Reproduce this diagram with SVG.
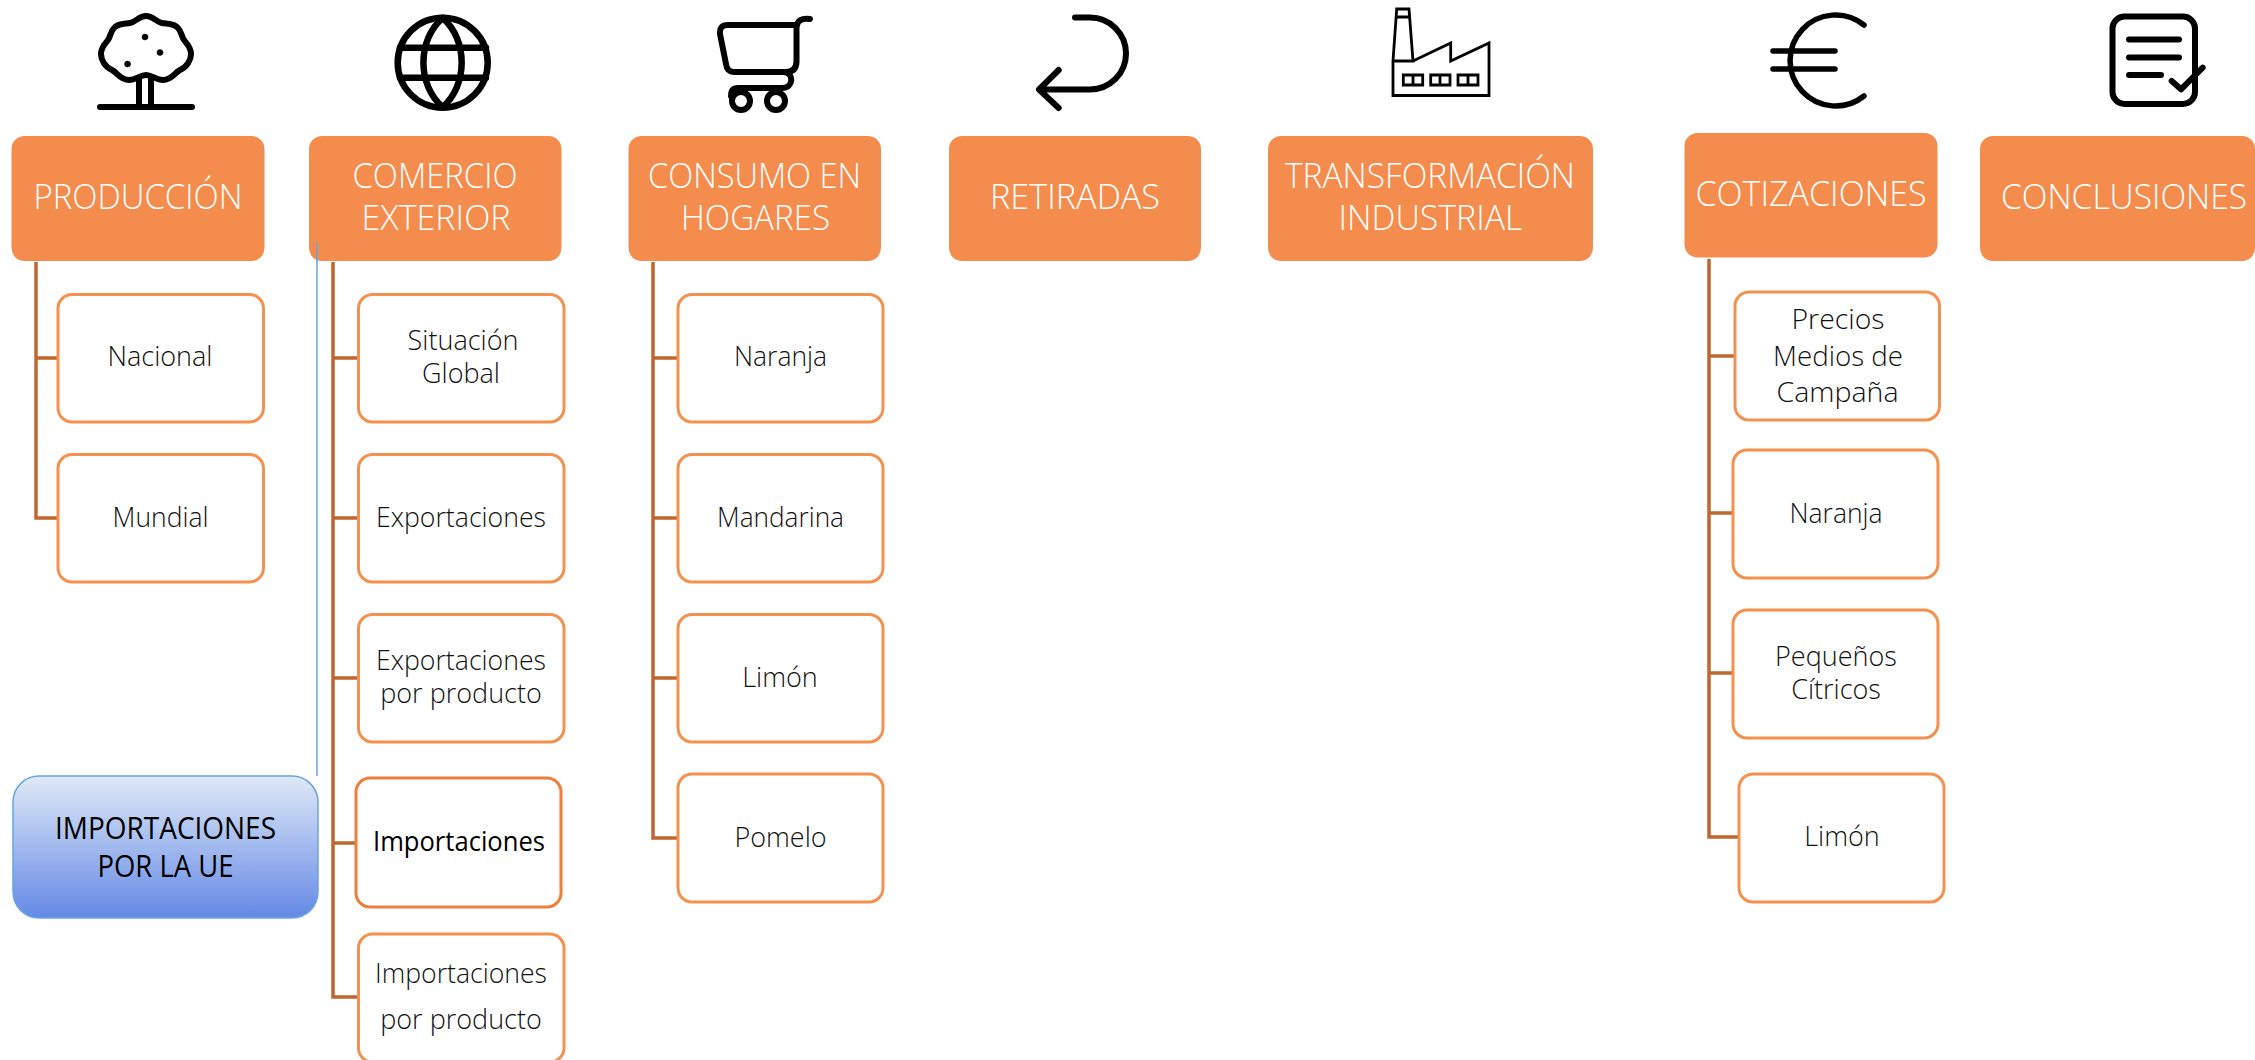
<svg xmlns="http://www.w3.org/2000/svg" width="2255" height="1060" viewBox="0 0 2255 1060">
<style>
text{font-family:"Open Sans","Noto Sans","Liberation Sans",sans-serif;text-anchor:middle}
.h{fill:#F48C4D}
.ht{fill:#fff;font-size:35px;font-weight:300}
.s{fill:#fff;stroke:#F4914F;stroke-width:3}
.st{fill:#111;font-size:27px;font-weight:300}
.c{fill:none;stroke:#C0672F;stroke-width:3.5}
.i{fill:none;stroke:#000;stroke-width:6;stroke-linecap:round;stroke-linejoin:round}
.f{fill:none;stroke:#000;stroke-width:2.8}
</style>
<defs><linearGradient id="bg" x1="0" y1="0" x2="0" y2="1"><stop offset="0" stop-color="#DFE9F6"/><stop offset="1" stop-color="#6489E6"/></linearGradient></defs>
<g id="icons">
<g id="icon-tree" class="i"><path d="M146 75C140 75 136 80 129 80C120 80 118 73 112 70C105 67 101 60 101 54C101 47 105 44 108 40C111 36 110 32 114 28C118 23 125 24 130 23C136 22 139 16 146 16C153 16 156 22 162 23C167 24 174 23 178 28C182 32 181 36 184 40C187 44 191 47 191 54C191 60 187 67 180 70C174 73 172 80 163 80C156 80 152 75 146 75Z"/><path d="M139 79V106M151 79V106M100 107H192"/><circle cx="145" cy="37" r="3" fill="#000" stroke-width="0.5"/><circle cx="160" cy="52.5" r="3" fill="#000" stroke-width="0.5"/><circle cx="127.5" cy="64" r="3" fill="#000" stroke-width="0.5"/></g>
<g id="icon-globe" class="i"><circle cx="442.7" cy="62.7" r="45" style="stroke-width:6.500"/><path d="M442.7 18C417 40 417 85 442.7 107C468 85 468 40 442.7 18ZM400 47.7H486M400 77.7H486" style="stroke-width:6.500"/></g>
<g id="icon-cart" class="i"><path d="M810 19C802 18 797 20 796.5 28V62Q796 72 786 72H734Q727 72 726 64L720 34Q719 25 728 25H796"/><path d="M784 72C794 73 794 88 782 88H738Q731 88 731 96"/><circle cx="741" cy="101" r="9"/><circle cx="776" cy="101" r="9"/></g>
<g id="icon-return" class="i"><path d="M1075 17.5H1090A36 36 0 0 1 1090 89.5H1040M1058.7 70L1039 89.5L1058.7 108"/></g>
<g id="icon-factory" class="f"><path d="M1396.7 9H1409L1413 61H1393ZM1395.5 17H1410M1393 61V95.5H1489V43L1450.7 61V43L1413 61"/><path d="M1403.3 75H1422.7V85H1403.3ZM1413 75V85M1430.7 75H1450V85H1430.7ZM1440 75V85M1458 75H1478V85H1458ZM1468 75V85"/></g>
<g id="icon-euro" class="i" style="stroke-width:5"><path d="M1864 25A45.5 45.5 0 1 0 1864 96M1773 51H1835M1773 69H1835" style="stroke-width:5.500"/></g>
<g id="icon-doc" class="i"><rect x="2112.5" y="16.5" width="82.5" height="87.5" rx="12"/><path d="M2129 39.5H2179M2129 57.5H2179M2129 75H2161M2171.7 81L2181 89.3L2202.7 67.7"/></g>
</g>
<g id="connectors" class="c">
<path d="M36 262V518H58M36 358H58"/>
<path d="M333 262V997H358M333 358H358M333 518H358M333 678H358M333 843H356"/>
<path d="M653 262V838H678M653 358H678M653 518H678M653 678H678"/>
<path d="M1709 259V837H1739M1709 356H1735M1709 513H1733M1709 673H1733"/>
<path d="M317 243V776" style="stroke:#6AA5DE;stroke-width:1.5"/>
</g>
<g id="n-produccion"><rect class="h" x="11.5" y="136" width="253" height="125" rx="13"/><text class="ht" x="138" y="209" textLength="209" lengthAdjust="spacingAndGlyphs">PRODUCCIÓN</text></g>
<g id="n-comercio"><rect class="h" x="309" y="136" width="252.500" height="125" rx="13"/><text class="ht" x="435" y="188" textLength="165" lengthAdjust="spacingAndGlyphs">COMERCIO</text><text class="ht" x="436" y="230" textLength="149" lengthAdjust="spacingAndGlyphs">EXTERIOR</text></g>
<path d="M317 243V262" style="stroke:#6AA5DE;stroke-width:1.5;fill:none"/>
<g id="n-consumo"><rect class="h" x="628.500" y="136" width="252.500" height="125" rx="13"/><text class="ht" x="754.500" y="188" textLength="213" lengthAdjust="spacingAndGlyphs">CONSUMO EN</text><text class="ht" x="755.500" y="230" textLength="149" lengthAdjust="spacingAndGlyphs">HOGARES</text></g>
<g id="n-retiradas"><rect class="h" x="949" y="136" width="252" height="125" rx="13"/><text class="ht" x="1075" y="209" textLength="170" lengthAdjust="spacingAndGlyphs">RETIRADAS</text></g>
<g id="n-transformacion"><rect class="h" x="1268" y="136" width="325" height="125" rx="13"/><text class="ht" x="1430" y="188" textLength="290" lengthAdjust="spacingAndGlyphs">TRANSFORMACIÓN</text><text class="ht" x="1430.500" y="230" textLength="184" lengthAdjust="spacingAndGlyphs">INDUSTRIAL</text></g>
<g id="n-cotizaciones"><rect class="h" x="1684.500" y="133" width="253" height="124.500" rx="13"/><text class="ht" x="1811" y="206" textLength="231" lengthAdjust="spacingAndGlyphs">COTIZACIONES</text></g>
<g id="n-conclusiones"><rect class="h" x="1980" y="136" width="275" height="125" rx="13"/><text class="ht" x="2124" y="209" textLength="246" lengthAdjust="spacingAndGlyphs">CONCLUSIONES</text></g>
<g id="n-nacional"><rect class="s" x="58" y="294.500" width="205.500" height="127.500" rx="14"/><text class="st" x="160" y="366">Nacional</text></g>
<g id="n-mundial"><rect class="s" x="58" y="454.500" width="205.500" height="127.500" rx="14"/><text class="st" x="160.500" y="527" textLength="96" lengthAdjust="spacingAndGlyphs">Mundial</text></g>
<g id="n-situacion"><rect class="s" x="358.500" y="294.500" width="205.500" height="127.500" rx="14"/><text class="st" x="463" y="350">Situación</text><text class="st" x="461" y="383">Global</text></g>
<g id="n-exportaciones"><rect class="s" x="358.500" y="454.500" width="205.500" height="127.500" rx="14"/><text class="st" x="461" y="527" textLength="170" lengthAdjust="spacingAndGlyphs">Exportaciones</text></g>
<g id="n-exp-prod"><rect class="s" x="358.500" y="614.500" width="205.500" height="127.500" rx="14"/><text class="st" x="461" y="670" textLength="170" lengthAdjust="spacingAndGlyphs">Exportaciones</text><text class="st" x="461" y="703">por producto</text></g>
<g id="n-importaciones"><rect class="s" x="356" y="778" width="205" height="129" rx="14" style="stroke:#EE7F3A"/><text class="st" x="459" y="851" textLength="172" lengthAdjust="spacingAndGlyphs" style="font-weight:400;fill:#000">Importaciones</text></g>
<g id="n-imp-prod"><rect class="s" x="358.500" y="934" width="205.500" height="128" rx="14"/><text class="st" x="461" y="983" textLength="172" lengthAdjust="spacingAndGlyphs">Importaciones</text><text class="st" x="461" y="1029">por producto</text></g>
<g id="n-naranja"><rect class="s" x="678" y="294.500" width="205" height="127.500" rx="14"/><text class="st" x="780.500" y="366" textLength="93" lengthAdjust="spacingAndGlyphs">Naranja</text></g>
<g id="n-mandarina"><rect class="s" x="678" y="454.500" width="205" height="127.500" rx="14"/><text class="st" x="780.500" y="527" textLength="127" lengthAdjust="spacingAndGlyphs">Mandarina</text></g>
<g id="n-limon"><rect class="s" x="678" y="614.500" width="205" height="127.500" rx="14"/><text class="st" x="780" y="687">Limón</text></g>
<g id="n-pomelo"><rect class="s" x="678" y="774" width="205" height="128" rx="14"/><text class="st" x="780.500" y="847">Pomelo</text></g>
<g id="n-precios"><rect class="s" x="1735" y="292" width="204.500" height="128" rx="14"/><text class="st" x="1838" y="329" textLength="93" lengthAdjust="spacingAndGlyphs">Precios</text><text class="st" x="1838" y="366" textLength="130" lengthAdjust="spacingAndGlyphs">Medios de</text><text class="st" x="1837.500" y="402" textLength="122" lengthAdjust="spacingAndGlyphs">Campaña</text></g>
<g id="n-cot-naranja"><rect class="s" x="1733" y="450" width="205" height="128" rx="14"/><text class="st" x="1836" y="523" textLength="93" lengthAdjust="spacingAndGlyphs">Naranja</text></g>
<g id="n-pequenos"><rect class="s" x="1733" y="610" width="205" height="128" rx="14"/><text class="st" x="1836" y="666">Pequeños</text><text class="st" x="1836" y="699">Cítricos</text></g>
<g id="n-cot-limon"><rect class="s" x="1739" y="774" width="205" height="128" rx="14"/><text class="st" x="1842" y="846">Limón</text></g>
<g id="n-ue"><rect x="13" y="776" width="305" height="142" rx="26" fill="url(#bg)" stroke="#6AA5DE" stroke-width="1.5"/><text x="165.500" y="839" textLength="221" lengthAdjust="spacingAndGlyphs" style="font-size:31px;font-weight:400;fill:#000">IMPORTACIONES</text><text x="165.500" y="877" textLength="136" lengthAdjust="spacingAndGlyphs" style="font-size:31px;font-weight:400;fill:#000">POR LA UE</text></g>
</svg>
